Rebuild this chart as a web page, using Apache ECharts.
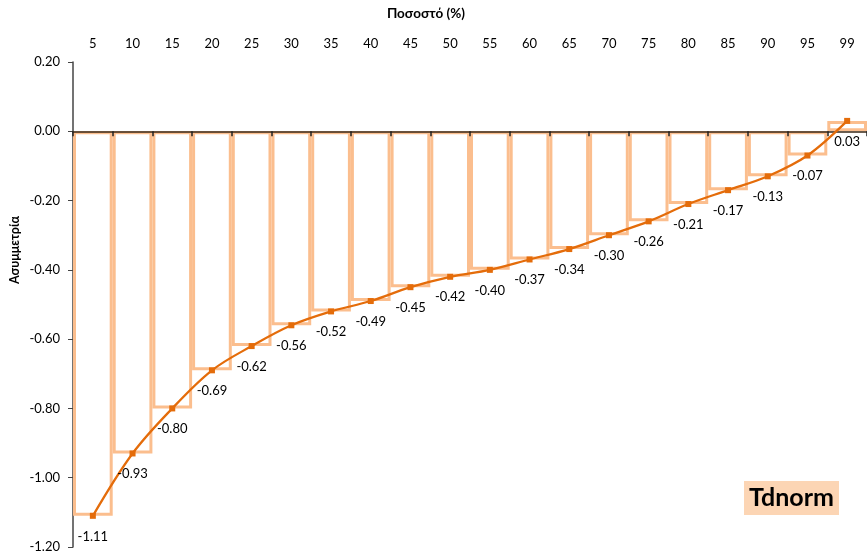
<!DOCTYPE html>
<html>
<head>
<meta charset="utf-8">
<script src="https://cdn.jsdelivr.net/npm/echarts@6/dist/echarts.min.js"></script>
<style>
  html, body { margin: 0; padding: 0; background: #fff; }
  #chart { width: 867px; height: 556px; }
</style>
</head>
<body>
<div id="chart"></div>
<script>
// Percentile levels along the top axis
const percentiles = ['5', '10', '15', '20', '25', '30', '35', '40', '45', '50',
                     '55', '60', '65', '70', '75', '80', '85', '90', '95', '99'];
// Skewness per percentile
const skewness = [-1.11, -0.93, -0.80, -0.69, -0.62, -0.56, -0.52, -0.49, -0.45, -0.42,
                  -0.40, -0.37, -0.34, -0.30, -0.26, -0.21, -0.17, -0.13, -0.07, 0.03];
// Value axis range
const yMin = -1.2, yMax = 0.2, yStep = 0.2;

const FONT = 'Lato, "Open Sans", sans-serif';
const GRID_TOP = 62, GRID_BOTTOM = 9, H = 556;
// pixel distance from plot top down to the zero line
const zeroOffset = (H - GRID_TOP - GRID_BOTTOM) * (yMax - 0) / (yMax - yMin);

const chart = echarts.init(document.getElementById('chart'), null, { renderer: 'canvas' });

chart.setOption({
  animation: false,
  textStyle: { fontFamily: FONT },
  grid: { left: 73, right: -1, top: GRID_TOP, bottom: GRID_BOTTOM },
  xAxis: [
    {
      type: 'category',
      position: 'top',
      data: percentiles,
      axisLine: { show: false },
      axisTick: { show: false },
      axisLabel: { color: '#000', fontSize: 13, margin: 12, fontFamily: FONT }
    },
    {
      // category baseline drawn through zero, ticks hanging downwards
      type: 'category',
      position: 'top',
      offset: -zeroOffset,
      data: percentiles,
      axisLine: { onZero: false, lineStyle: { color: '#3a2a1a', width: 1.5 } },
      axisTick: { show: true, inside: true, length: 5, lineStyle: { color: '#222', width: 1.5 } },
      axisLabel: { show: false },
      z: 5
    }
  ],
  yAxis: {
    type: 'value',
    min: yMin, max: yMax, interval: yStep,
    splitLine: { show: false },
    axisLine: { show: true, lineStyle: { color: '#444', width: 1.5 } },
    axisTick: { show: true, length: 5, lineStyle: { color: '#444' } },
    axisLabel: {
      color: '#000', fontSize: 13, margin: 13, fontFamily: FONT,
      formatter: v => v.toFixed(2)
    }
  },
  series: [
    {
      type: 'bar',
      xAxisIndex: 0,
      data: skewness,
      barWidth: '100%',
      itemStyle: { color: 'rgba(0,0,0,0)', borderColor: '#FBBE8E', borderWidth: 3 },
      z: 1
    },
    {
      type: 'line',
      xAxisIndex: 0,
      data: skewness,
      smooth: 0.35,
      symbol: 'rect',
      symbolSize: 6,
      lineStyle: { color: '#E46C0A', width: 2.25 },
      itemStyle: { color: '#E46C0A' },
      label: {
        show: true,
        position: 'bottom',
        distance: 11,
        color: '#000',
        fontSize: 13,
        fontFamily: FONT,
        formatter: p => p.value.toFixed(2)
      },
      z: 6
    }
  ],
  graphic: [
    {
      type: 'text',
      x: 426, y: 14,
      style: {
        text: 'Ποσοστό (%)', fill: '#000', font: 'bold 13.5px ' + FONT,
        align: 'center', verticalAlign: 'middle'
      }
    },
    {
      type: 'text',
      x: 15, y: 250,
      rotation: Math.PI / 2,
      style: {
        text: 'Ασυμμετρία', fill: '#000', font: 'bold 12.5px ' + FONT,
        align: 'center', verticalAlign: 'middle'
      }
    },
    {
      type: 'rect',
      shape: { x: 744, y: 481, width: 95, height: 34 },
      style: { fill: '#FCD5B4' },
      z: 10
    },
    {
      type: 'text',
      x: 791.5, y: 498,
      style: {
        text: 'Tdnorm', fill: '#000', font: 'bold 25px ' + FONT,
        align: 'center', verticalAlign: 'middle'
      },
      z: 11
    }
  ]
});
</script>
</body>
</html>
